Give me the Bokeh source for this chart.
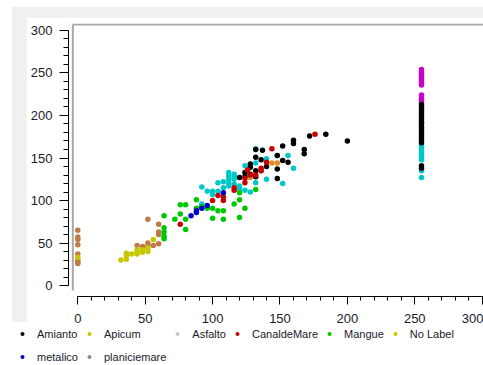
from bokeh.plotting import figure
from bokeh.layouts import column
from bokeh.models import Legend, LegendItem, Range1d, SingleIntervalTicker
from bokeh.embed import file_html
from bokeh.resources import INLINE

# ---------------- data ----------------
series_names = ["Amianto", "Apicum", "Asfalto", "CanaldeMare", "Mangue",
                "No Label", "metalico", "planiciemare"]

amianto_x = [120, 124, 124, 128, 128, 128, 132, 132, 132, 132, 136, 137, 140,
             148, 148, 148, 152, 152, 156, 160, 160, 168, 168, 172, 184, 200,
             255, 255, 255, 255, 255, 255, 255, 255, 255, 255, 255, 255, 255,
             255, 255, 255, 255, 255]
amianto_y = [127, 128, 133, 131, 139, 143, 128, 135, 151, 160, 148, 159, 140,
             126, 137, 153, 147, 164, 145, 167, 171, 155, 160, 176, 178, 170,
             168, 171, 174, 177, 180, 183, 186, 189, 192, 195, 198, 201, 204,
             207, 210, 213, 138, 141]

apicum_x = [0, 32, 36, 36, 36, 40, 44, 44, 44, 48, 48, 52, 52, 56]
apicum_y = [33, 30, 31, 35, 38, 37, 37, 40, 42, 39, 42, 40, 44, 54]

asfalto_x = []
asfalto_y = []

canal_x = [76, 100, 104, 108, 108, 116, 116, 124, 124, 126, 128, 132, 136,
           136, 140, 144, 176]
canal_y = [72, 100, 106, 100, 104, 112, 115, 121, 126, 136, 130, 130, 135,
           138, 145, 161, 178]

mangue_x = [64, 64, 64, 64, 64, 72, 76, 76, 80, 80, 80, 88, 88, 92, 96, 100,
            100, 104, 108, 108, 116, 120, 120, 120, 124, 132]
mangue_y = [82, 68, 63, 58, 55, 78, 95, 84, 95, 78, 66, 101, 91, 93, 91, 91,
            79, 88, 78, 88, 96, 101, 109, 80, 91, 113]

nolabel_x = []
nolabel_y = []

metalico_x = [84, 88, 88, 92, 96, 108]
metalico_y = [82, 86, 88, 91, 94, 109]

planicie_x = []
planicie_y = []

# further series whose legend entries are not visible
cyan_x = [92, 92, 96, 100, 100, 104, 104, 108, 108, 112, 112, 112, 112, 112,
          116, 116, 116, 116, 120, 120, 124, 124, 128, 132, 132, 132, 136,
          140, 140, 148, 152, 156, 160,
          255, 255, 255, 255, 255, 255, 255, 255, 255]
cyan_y = [116, 96, 111, 111, 107, 121, 111, 122, 115, 133, 129, 125, 121, 117,
          131, 128, 125, 119, 117, 114, 112, 141, 110, 161, 144, 121, 135,
          149, 125, 153, 120, 153, 138,
          148, 151, 154, 157, 160, 163, 166, 135, 127]

magenta_x = [255, 255, 255, 255, 255, 255, 255, 255, 255, 255, 255]
magenta_y = [236, 239, 242, 245, 248, 251, 254, 215, 218, 221, 224]

brown_x = [0, 0, 0, 0, 0, 0, 0, 0, 44, 48, 52, 52, 52, 56, 60, 60, 60, 60]
brown_y = [65, 57, 54, 48, 37, 30, 28, 26, 47, 46, 47, 50, 78, 47, 49, 60,
           63, 72]

orange_x = [128, 144, 148]
orange_y = [127, 144, 144]

# ---------------- styling ----------------
FONT = "Liberation Sans"
X0, X1 = -6.9, 301.0
Y0, Y1 = -12.9, 308.2
GRAY = "#f0f0f0"

p = figure(width=457, height=312, output_backend="svg", toolbar_location=None,
           x_range=Range1d(X0, X1), y_range=Range1d(Y0, Y1),
           min_border_left=42, min_border_right=0, min_border_top=6,
           min_border_bottom=33)
p.xgrid.visible = False
p.ygrid.visible = False
p.outline_line_color = None
p.background_fill_color = "white"
p.border_fill_color = "white"

# plot-area frame lines (left and top)
p.segment(x0=[-3.7, -3.7], y0=[-5.9, 307.1], x1=[-3.7, X1 + 5],
          y1=[307.1, 307.1], line_color="#a8a8a8", line_width=2)

for ax, tick_out, minor_out, standoff in ((p.xaxis, 8, 4, 9),
                                           (p.yaxis, 9, 5, 7)):
    ax.ticker = SingleIntervalTicker(interval=50, num_minor_ticks=5)
    ax.bounds = (0, 300)
    ax.axis_line_color = "black"
    ax.major_tick_line_color = "black"
    ax.minor_tick_line_color = "black"
    ax.major_tick_in = 0
    ax.minor_tick_in = 0
    ax.major_tick_out = tick_out
    ax.minor_tick_out = minor_out
    ax.major_label_standoff = standoff
    ax.major_label_text_font = FONT
    ax.major_label_text_font_size = "13px"
    ax.major_label_text_color = "#1a1a2a"

MS = 5.5
def sc(fig, x, y, color):
    return fig.scatter(x=x, y=y, size=MS, marker="circle", fill_color=color,
                       line_color=None)

sc(p, brown_x, brown_y, "#c07a45")
sc(p, cyan_x, cyan_y, "#00c8c8")
sc(p, magenta_x, magenta_y, "#c800c8")
sc(p, orange_x, orange_y, "#e08a28")

colors = ["black", "#c8c800", "#c8c8c8", "#c80000", "#00c800", "#c8c800",
          "#0000c8", "#8090a0"]
xs = [amianto_x, apicum_x, asfalto_x, canal_x, mangue_x, nolabel_x,
      metalico_x, planicie_x]
ys = [amianto_y, apicum_y, asfalto_y, canal_y, mangue_y, nolabel_y,
      metalico_y, planicie_y]
for x, y, c in zip(xs, ys, colors):
    sc(p, x, y, c)

# ---------------- legend strip below the chart ----------------
# legend proxies: one hidden sample per entry (outside the strip's view)
lp = figure(width=483, height=42, output_backend="svg", toolbar_location=None,
            x_range=Range1d(10, 11), y_range=Range1d(10, 11),
            min_border_left=0, min_border_right=0, min_border_top=0,
            min_border_bottom=0)
lp.axis.visible = False
lp.grid.visible = False
lp.outline_line_color = None
lp.border_fill_color = None
lp.background_fill_color = None
lp.margin = (-6, 0, 0, 0)

items = []
for n, c in zip(series_names, colors):
    r = lp.scatter(x=[0], y=[0], size=MS, marker="circle", fill_color=c,
                   line_color=None)
    items.append(LegendItem(label=n, renderers=[r]))
legend = Legend(items=items, ncols=6, orientation="horizontal",
                location=(17, 0), padding=0, margin=0, spacing=6,
                glyph_width=10, glyph_height=17, label_height=17,
                label_standoff=10, border_line_color=None,
                background_fill_alpha=0, label_text_font=FONT,
                label_text_font_size="11px", label_text_color="#1a1a2a")
lp.add_layout(legend, "center")

chart_box = column(p, margin=(7, 0, 0, 12),
                   styles={"background": "linear-gradient(#f0f0f0, #f0f0f0) "
                                         "top left / 100% 315px no-repeat",
                           "padding-top": "10px", "padding-left": "14px"})
page = column(chart_box, lp, spacing=0)

open("out.html", "w").write(file_html(page, INLINE))
